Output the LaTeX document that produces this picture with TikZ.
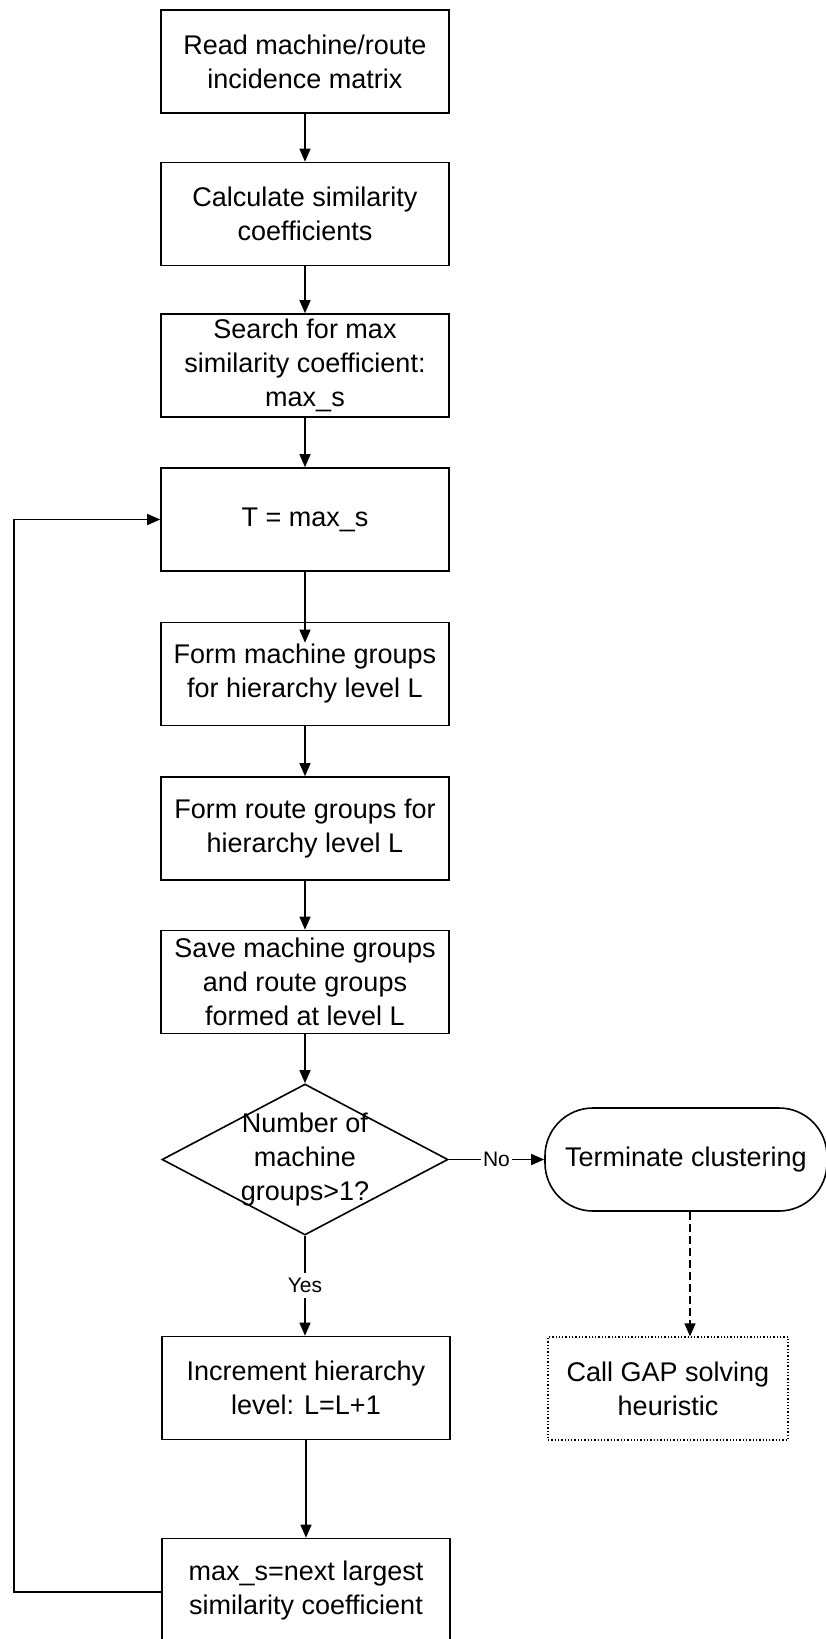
\documentclass[tikz,border=0pt]{standalone}
\usepackage{fontspec}
\setmainfont{Liberation Sans}
\usetikzlibrary{arrows.meta,shapes.geometric}

\begin{document}
\begin{tikzpicture}[x=1pt,y=-1pt,
  txt/.style={font=\fontsize{27}{34}\selectfont, align=center},
  box/.style={txt, draw, line width=1.6pt, minimum width=288pt, minimum height=103pt, inner sep=0pt},
  decision/.style={diamond, draw, line width=1.6pt, minimum width=286pt, minimum height=151pt, inner sep=0pt},
  terminal/.style={txt, draw, line width=1.6pt, rounded corners=48pt, minimum width=282pt, minimum height=103pt, inner sep=0pt},
  extbox/.style={txt, draw, line width=1.3pt, dotted, minimum width=240pt, minimum height=103pt, inner sep=0pt},
  flow/.style={line width=1.3pt, -{Triangle[length=13pt,width=11pt]}},
  tag/.style={font=\fontsize{21}{24}\selectfont, fill=white, inner sep=2pt}
]
\useasboundingbox (0,0) rectangle (826,1639);

% main column
\node[box] (read)  at (305,61.5)  {Read machine/route\\incidence matrix};
\node[box] (calc)  at (305,214)   {Calculate similarity\\coefficients};
\node[box] (srch)  at (305,365.5) {Search for max\\similarity coefficient:\\max\_s};
\node[box] (thr)   at (305,519.5) {T = max\_s};
\node[box] (mgrp)  at (305,674)   {Form machine groups\\for hierarchy level L};
\node[box] (rgrp)  at (305,828.5) {Form route groups for\\hierarchy level L};
\node[box] (save)  at (305,982)   {Save machine groups\\and route groups\\formed at level L};
\node[decision] (dec) at (305,1159.5) {};
\node[txt] (dectxt) at (dec.center) {Number of\\machine\\groups>1?};
\node[box] (incr)  at (306,1388)  {Increment hierarchy\\level: L=L+1};
\node[box] (next)  at (306,1590)  {max\_s=next largest\\similarity coefficient};

% exit branch
\node[terminal] (term) at (686,1159.5) {Terminate clustering};
\node[extbox]   (gap)  at (668,1388.5) {Call GAP solving\\heuristic};

% connectors
\draw[flow] (read) -- (calc);
\draw[flow] (calc) -- (srch);
\draw[flow] (srch) -- (thr);
\draw[flow] (thr.south) -- ([yshift=-21pt]mgrp.north);
\draw[flow] (mgrp) -- (rgrp);
\draw[flow] (rgrp) -- (save);
\draw[flow] (save.south) -- (dec.north);
\draw[flow] (dec.south) -- node[tag, inner sep=5pt] {Yes} (dec.south |- incr.north);
\draw[flow] (dec.east) -- node[tag] {No} (term.west);
\draw[flow] (incr) -- (next);
\draw[flow, dashed, dash pattern=on 8pt off 4pt]
  ([xshift=4pt]term.south) -- ([xshift=4pt]term.south |- gap.north);

% loop back to the threshold step
\coordinate (lb) at (14,1592);
\coordinate (lt) at (14,519.5);
\draw[flow] (next.west |- lb) -- (lb) -- (lt) -- (thr.west);
\end{tikzpicture}
\end{document}
